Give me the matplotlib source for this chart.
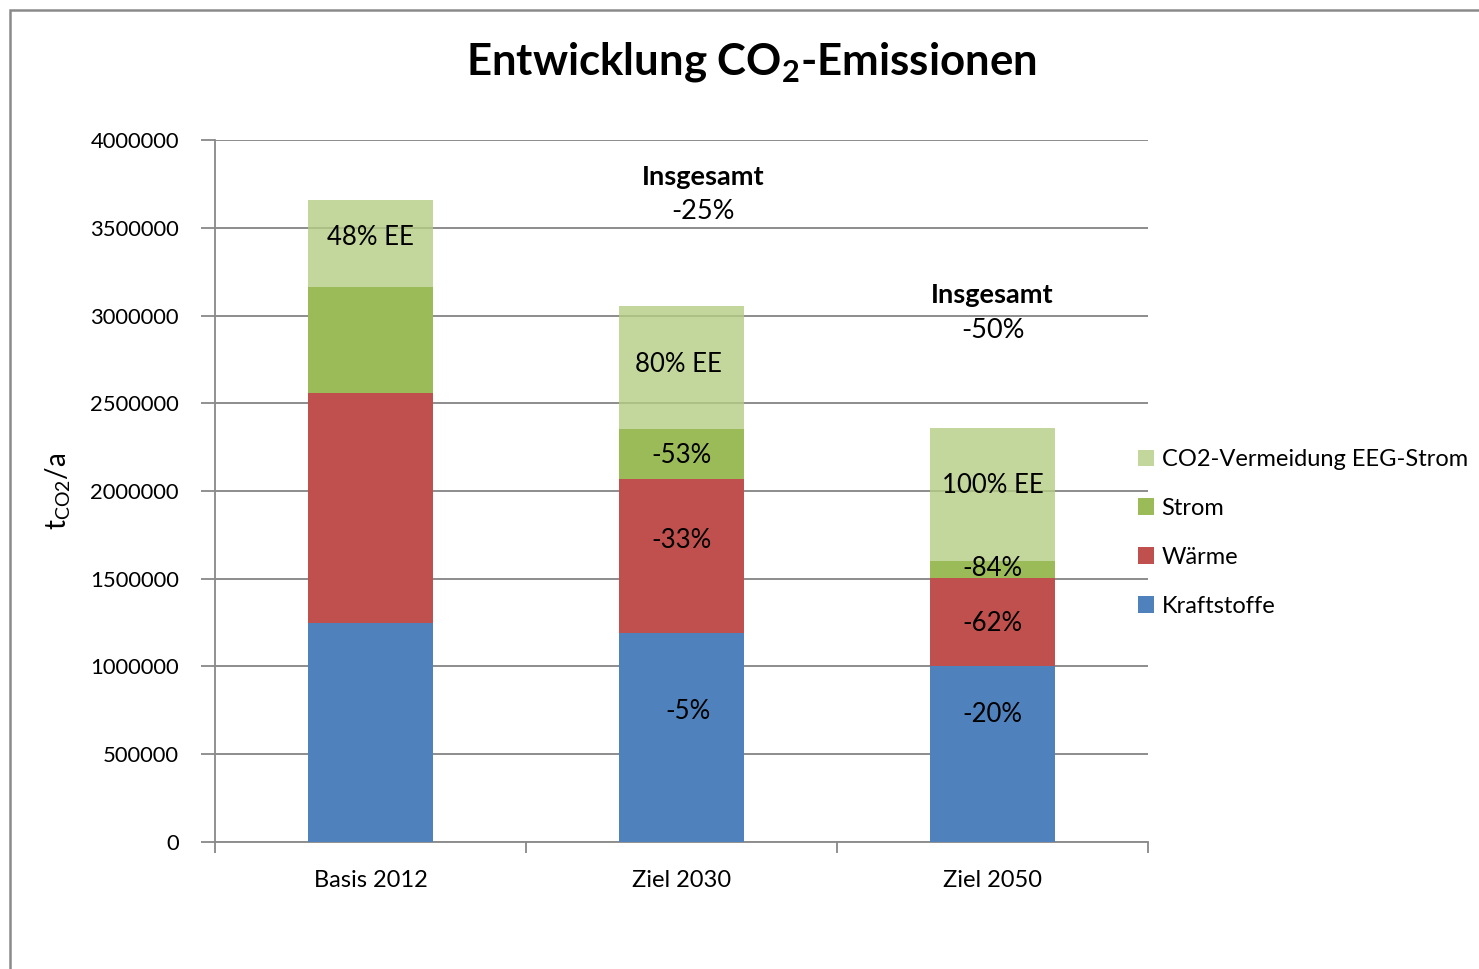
import numpy as np
import matplotlib
matplotlib.use("Agg")
import matplotlib.pyplot as plt
from matplotlib.patches import Rectangle, Patch

plt.rcParams['font.family'] = ['Lato', 'DejaVu Sans']

categories = ['Basis 2012', 'Ziel 2030', 'Ziel 2050']
kraftstoffe = [1250000, 1190000, 1005000]
waerme = [1308000, 877000, 497000]
strom = [604000, 285000, 97000]
co2_vermeidung = [496000, 701000, 758000]

series_names = ['Kraftstoffe', 'Wärme', 'Strom', 'CO2-Vermeidung EEG-Strom']
yticks = [0, 500000, 1000000, 1500000, 2000000, 2500000, 3000000, 3500000, 4000000]

# label text per bar segment
seg_labels = [
    [None, '-5%', '-20%'],
    [None, '-33%', '-62%'],
    [None, '-53%', '-84%'],
    ['48% EE', '80% EE', '100% EE'],
]
# nudges of the labels (x in category units, y in t/a) relative to segment centre
seg_nudge = [
    [(0, 0), (0.02, 146000), (0, 222000)],
    [(0, 0), (0, 90000), (0, -10000)],
    [(0, 0), (0, -5000), (0, 9000)],
    [(0, 37000), (-0.01, 21000), (0, 54000)],
]
totals = [(1.07, 'Insgesamt', '-25%', 3789000, 3590000),
          (2.0, 'Insgesamt', '-50%', 3117000, 2917000)]

colors = ['#4f81bd', '#c0504d', '#9bbb59', (180/255, 204/255, 130/255)]
alphas = [1, 1, 1, 0.8]

fig = plt.figure(figsize=(14.79, 9.69), dpi=100)
ax = fig.add_axes([0.1454, 0.1311, 0.6308, 0.7244])

x = np.arange(len(categories))
stack = [kraftstoffe, waerme, strom, co2_vermeidung]
bottom = np.zeros(len(categories))
for i, vals in enumerate(stack):
    vals = np.array(vals, dtype=float)
    z = 3 if i < 3 else 5
    ax.bar(x, vals, 0.4, bottom=bottom, color=colors[i], alpha=alphas[i],
           zorder=z, linewidth=0)
    for j in range(len(categories)):
        t = seg_labels[i][j]
        if t:
            dx, dy = seg_nudge[i][j]
            ax.text(x[j] + dx, bottom[j] + vals[j] / 2 + dy, t, ha='center',
                    va='center', fontsize=18.5, color='black', zorder=6)
    bottom += vals

for xc, t1, t2, y1, y2 in totals:
    ax.text(xc, y1, t1, ha='center', va='center', fontsize=19.5,
            fontweight='bold', zorder=6)
    ax.text(xc, y2, t2, ha='center', va='center', fontsize=19.5, zorder=6)

ax.set_xlim(-0.5, 2.5)
ax.set_ylim(0, 4000000)
ax.set_yticks(yticks)
ax.set_yticklabels([str(v) for v in yticks], fontsize=15.8)
ax.set_xticks(x)
ax.set_xticklabels(categories, fontsize=17)
ax.tick_params(axis='x', length=0, pad=20)
ax.set_xticks([-0.5, 0.5, 1.5, 2.5], minor=True)
ax.tick_params(axis='x', which='minor', length=8, color='#888888', width=1.3)
ax.tick_params(axis='y', length=10, color='#888888', width=1.3, pad=16)
ax.yaxis.grid(True, color='#8c8c8c', linewidth=1.4, zorder=4)
ax.set_axisbelow(False)
for s in ['top', 'right']:
    ax.spines[s].set_visible(False)
for s in ['left', 'bottom']:
    ax.spines[s].set_color('#888888')
    ax.spines[s].set_linewidth(1.3)
ax.set_ylabel(r'$\mathregular{t_{CO2}/a}$', fontsize=20, labelpad=12)

handles = [Patch(facecolor='#c3d69b'), Patch(facecolor=colors[2]),
           Patch(facecolor=colors[1]), Patch(facecolor=colors[0])]
leg = fig.legend(handles, series_names[::-1], loc='center left',
                 bbox_to_anchor=(0.755, 0.45), frameon=False, fontsize=17,
                 handlelength=0.7, handleheight=0.7, handletextpad=0.3,
                 labelspacing=1.18)

fig.text(0.508, 0.936, r'Entwicklung CO$_\mathregular{2}$-Emissionen', ha='center',
         va='center', fontsize=31.5, fontweight='bold')

border = Rectangle((10/1479, -0.1), 1.2, 1 - 10/969 + 0.1, transform=fig.transFigure,
                   fill=False, edgecolor='#8a8a8a', linewidth=1.8, clip_on=False)
fig.patches.append(border)

fig.savefig('out.png', dpi=100)
